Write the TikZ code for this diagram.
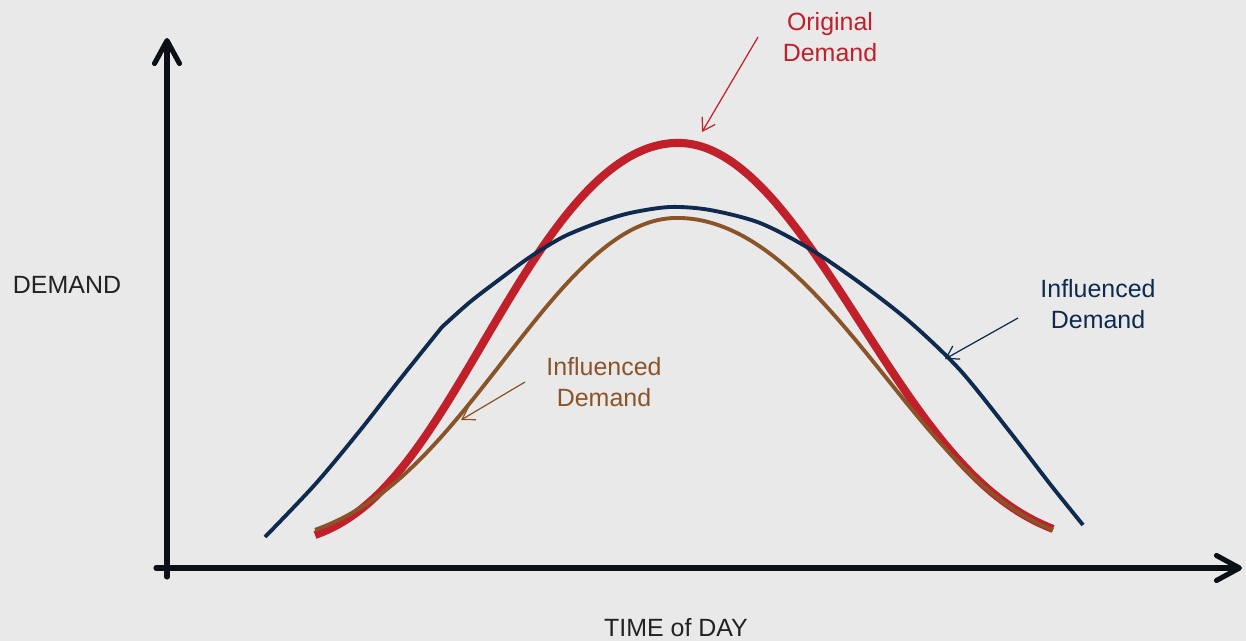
\documentclass[tikz,border=0pt]{standalone}
\usepackage{fontspec}
\setmainfont{Liberation Sans}
\usetikzlibrary{arrows.meta}
\definecolor{bgc}{HTML}{E8E9E8}
\definecolor{redc}{HTML}{C11F2A}
\definecolor{brownc}{HTML}{8B5428}
\definecolor{navyc}{HTML}{0E2A4F}
\definecolor{axisc}{HTML}{0B1017}
\definecolor{textc}{HTML}{222222}
\tikzset{
  axisline/.style={draw=axisc, line width=2.9pt, line cap=round, -{Straight Barb[length=0.46cm,width=0.5cm,line cap=round,line join=round]}},
  curvered/.style={draw=redc, line width=4.6pt},
  curvenavy/.style={draw=navyc, line width=2.2pt},
  curvebrown/.style={draw=brownc, line width=2.2pt},
  label/.style={font=\fontsize{14.2pt}{17.6pt}\selectfont, align=center, inner sep=0pt},
  pointer/.style={line width=0.7pt, -{Straight Barb[length=0.24cm,width=0.3cm]}},
}
\begin{document}
\begin{tikzpicture}[x=0.02cm,y=-0.02cm]
\fill[bgc] (0,0) rectangle (1246,641);
\useasboundingbox (0,0) rectangle (1246,641);
% axes
\coordinate (ybot) at (167,577);
\coordinate (ytop) at (167,38);
\coordinate (xleft) at (156,568);
\coordinate (xright) at (1242,568);
\draw[axisline] (ybot) -- (ytop);
\draw[axisline] (xleft) -- (xright);
% original demand (red)
\draw[curvered] plot[domain=315:1053, samples=160, smooth]
  (\x, {548-405*exp(-((abs(\x-678)/(\x<678 ? 261.7 : 247))^2 + (abs(\x-678)/(\x<678 ? 327.4 : 403))^4))});
% influenced demand (navy)
\draw[curvenavy] plot[smooth] coordinates {(265,537) (315,484.5) (360,430.5) (400,379.3) (442,327)}
  -- plot[smooth] coordinates {(442,327) (470,302) (500,279) (530,257) (563,237) (597,223) (630,213) (670,207) (710,210) (760,223) (810,249) (860,283) (910,322) (960,370) (1010,432) (1050,484) (1083,525)};
% influenced demand (brown)
\draw[curvebrown] plot[domain=315:1053, samples=160, smooth]
  (\x, {549-331*exp(-((abs(\x-677)/(\x<677 ? 237 : 280))^2 + (abs(\x-677)/(\x<677 ? 427 : 371))^4))});
% labels
\node[label, textc] (ylab) at (67,285) {DEMAND};
\node[label, textc] (xlab) at (676,628) {TIME of DAY};
\node[label, redc] (orig) at (830,37) {Original\\Demand};
\node[label, brownc] (inflb) at (604,382) {Influenced\\Demand};
\node[label, navyc] (infln) at (1098,304) {Influenced\\Demand};
% pointers
\coordinate (origstart) at (758,37);
\coordinate (origtip) at (702,132);
\coordinate (inflbstart) at (525,382);
\coordinate (inflbtip) at (461,420);
\coordinate (inflnstart) at (1018,318);
\coordinate (infln tip) at (945,359);
\draw[pointer, redc] (origstart) -- (origtip);
\draw[pointer, brownc] (inflbstart) -- (inflbtip);
\draw[pointer, navyc] (inflnstart) -- (infln tip);
\end{tikzpicture}
\end{document}
